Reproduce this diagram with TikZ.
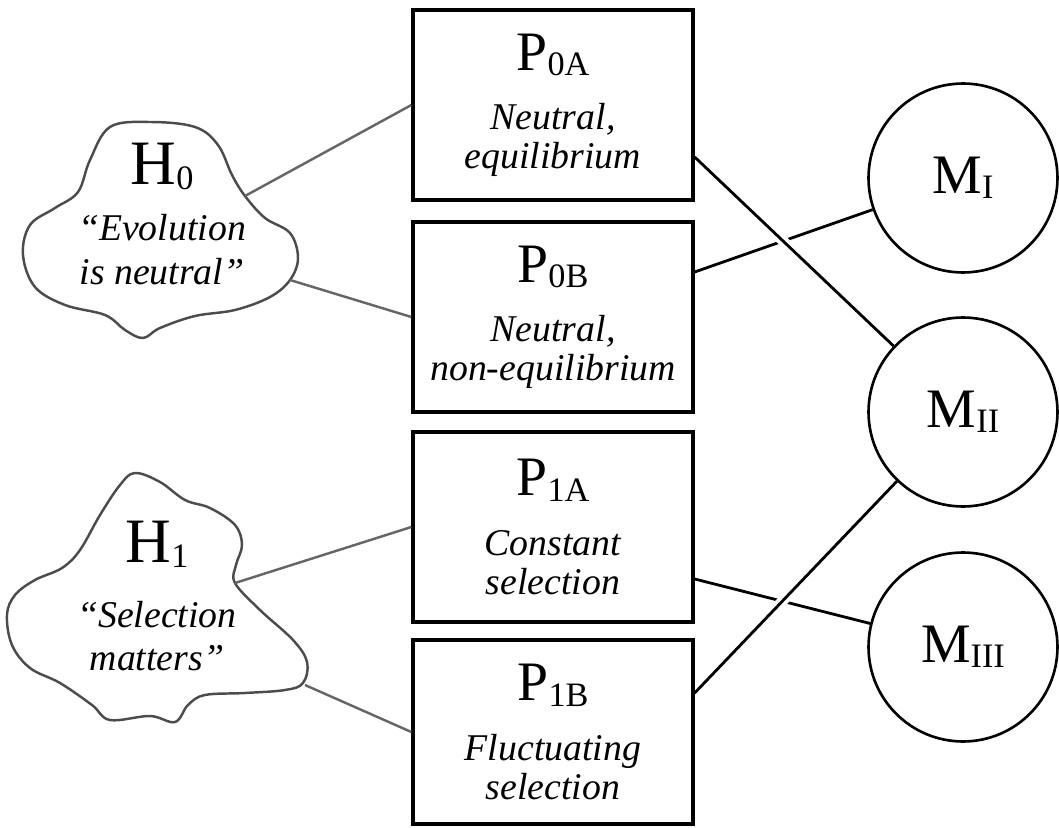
\documentclass[tikz,border=0pt]{standalone}
\usepackage{fontspec}
\setmainfont{Liberation Serif}
\usetikzlibrary{calc}

\newcommand{\sublbl}[2]{{\upshape #1\raisebox{-3pt}{\fontsize{19.5}{20}\selectfont #2}}}

\begin{document}
\begin{tikzpicture}[x=0.02cm,y=-0.02cm,
    pbox/.style={draw=black, line width=1.9pt, minimum width=5.6cm,
      minimum height=3.8cm, inner sep=0pt, align=center,
      font=\fontsize{21.5}{22}\selectfont\itshape},
    mcirc/.style={draw=black, circle, line width=1.5pt, minimum size=3.78cm,
      inner sep=0pt, font=\fontsize{31.7}{32}\selectfont},
    htext/.style={align=center, inner sep=0pt,
      font=\fontsize{21.5}{25}\selectfont\itshape},
    cloudline/.style={draw=black!70, line width=1.4pt},
    hline/.style={draw=black!60, line width=1.4pt},
    mline/.style={draw=black, line width=1.6pt},
    hop/.style={preaction={draw=white, line width=6pt,
      shorten <=10pt, shorten >=10pt}}]
  \useasboundingbox (0,0) rectangle (1059,828);
  \draw[cloudline]
    plot[smooth cycle, tension=0.6]
    coordinates {(110,127) (150,122) (195,127) (218,145) (232,175) (245,196)
                 (265,218) (290,233) (298,258) (290,280) (270,297) (235,310)
                 (195,316) (160,328) (143,338) (125,330) (105,315) (65,305)
                 (35,287) (23,255) (30,225) (55,208) (78,192) (90,160)};
  \draw[cloudline]
    plot[smooth cycle, tension=0.6]
    coordinates {(135,473) (160,482) (185,500) (210,508) (235,525) (242,545)
                 (236,565) (235,583) (260,610) (293,640) (307,662) (303,683)
                 (285,690) (245,693) (205,695) (188,705) (175,722) (150,716)
                 (110,720) (92,705) (60,683) (30,668) (12,645) (7,615)
                 (15,595) (35,580) (62,568) (80,550) (100,515) (120,485)};
  \coordinate (h0a) at (245,196);
  \coordinate (h0b) at (290,280);
  \coordinate (h1a) at (235,583);
  \coordinate (h1b) at (305,685);
  \node[htext] (H0) at (162,214)
    {{\fontsize{36}{36}\selectfont\sublbl{H}{0}}\\[7pt]
     ``Evolution\\ is neutral''};
  \node[htext] (H1) at (157,596)
    {{\fontsize{36}{36}\selectfont\sublbl{H}{1}}\\[12pt]
     ``Selection\\ matters''};

  \node[pbox] (P0A) at (553,105)
    {{\fontsize{31.7}{32}\selectfont\sublbl{P}{0A}}\\[12pt] Neutral,\\ equilibrium};
  \node[pbox] (P0B) at (553,317)
    {{\fontsize{31.7}{32}\selectfont\sublbl{P}{0B}}\\[12pt] Neutral,\\ non-equilibrium};
  \node[pbox] (P1A) at (553,527)
    {{\fontsize{31.7}{32}\selectfont\sublbl{P}{1A}}\\[12pt] Constant\\ selection};
  \node[pbox, minimum height=3.68cm] (P1B) at (553,732)
    {{\fontsize{31.7}{32}\selectfont\sublbl{P}{1B}}\\[12pt] Fluctuating\\ selection};

  \node[mcirc] (MI) at (963,178) {\sublbl{M}{I}};
  \node[mcirc] (MII) at (963,412) {\sublbl{M}{II}};
  \node[mcirc] (MIII) at (963,647) {\sublbl{M}{III}};

  \draw[hline] (h0a) -- (P0A.west);
  \draw[hline] (h0b) -- (P0B.west);
  \draw[hline] (h1a) -- (P1A.west);
  \draw[hline] (h1b) -- (P1B.west);

  \draw[mline] ($(P0B.east)+(0,-45)$) -- (MI);
  \draw[mline] ($(P1A.east)+(0,52)$) -- (MIII);
  \draw[mline, hop] ($(P0A.east)+(0,52)$) -- (MII);
  \draw[mline, hop] ($(P1B.east)+(0,-39)$) -- (MII);
\end{tikzpicture}
\end{document}
